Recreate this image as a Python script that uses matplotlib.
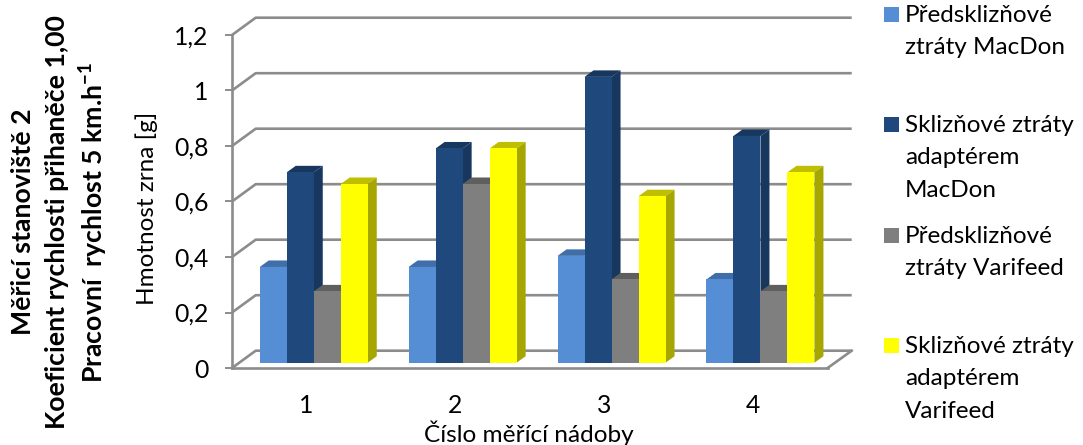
import matplotlib
matplotlib.use("Agg")
import matplotlib.pyplot as plt
from matplotlib.patches import Polygon, Rectangle

plt.rcParams['font.family'] = ['Lato', 'DejaVu Sans']
plt.rcParams['mathtext.fontset'] = 'custom'
plt.rcParams['mathtext.rm'] = 'Lato'
plt.rcParams['mathtext.bf'] = 'Lato:bold'

categories = ['1', '2', '3', '4']
series_names = ['Předsklizňové\nztráty MacDon',
                'Sklizňové ztráty\nadaptérem\nMacDon',
                'Předsklizňové\nztráty Varifeed',
                'Sklizňové ztráty\nadaptérem\nVarifeed']
pre_macdon = [0.345, 0.345, 0.385, 0.30]
harvest_macdon = [0.686, 0.772, 1.03, 0.817]
pre_varifeed = [0.257, 0.644, 0.30, 0.257]
harvest_varifeed = [0.644, 0.772, 0.60, 0.686]
y_ticks = [0, 0.2, 0.4, 0.6, 0.8, 1.0, 1.2]
y_tick_labels = ['0', '0,2', '0,4', '0,6', '0,8', '1', '1,2']
title_lines = ['Měřicí stanoviště 2', 'Koeficient rychlosti přihaněče 1,00',
               'Pracovní  rychlost 5 km.h$\\mathbf{^{-1}}$']

front_colors = ['#558ED5', '#1F497D', '#7F7F7F', '#FFFF00']
top_colors = ['#3F6EA8', '#17375E', '#5F5F5F', '#BFBF00']
side_colors = ['#3F6EA8', '#17375E', '#5F5F5F', '#A6A600']
grid_color = '#8C8C8C'

W, H = 1083, 445
fig = plt.figure(figsize=(W / 100, H / 100), dpi=100)

# pixel layout
left_px, right_px, base_px, top_px = 232.0, 851.7, 368.0, 18.0
ax = fig.add_axes([left_px / W, 1 - base_px / H, (right_px - left_px) / W, (base_px - top_px) / H])
px_per_cat = 148.9
px_per_val = 277.5
ax.set_xlim(0.5, 0.5 + (right_px - left_px) / px_per_cat)
ax.set_ylim(0, (base_px - top_px) / px_per_val)
dxpx = lambda p: p / px_per_cat
dypx = lambda p: p / px_per_val

wall_dx, wall_dy = dxpx(23.7), dypx(17.3)
x0 = 0.5
x_end = 4.5

# walls / gridlines
for t in y_ticks:
    ax.plot([x0, x0 + wall_dx, ax.get_xlim()[1]], [t, t + wall_dy, t + wall_dy],
            color=grid_color, lw=1.9, zorder=1, clip_on=False, solid_capstyle='butt')
# floor right edge
ax.plot([x_end, ax.get_xlim()[1]], [0, wall_dy], color=grid_color, lw=1.9, zorder=1, clip_on=False)

# bars
bar_w = dxpx(27.0)
bar_base = dypx(5.3)
bar_shift = dxpx(7.3)
depth_x, depth_y = dxpx(9.0), dypx(6.5)
all_series = [pre_macdon, harvest_macdon, pre_varifeed, harvest_varifeed]
for s, vals in enumerate(all_series):
    xs = [i + 1 + bar_shift + (s - 1.5) * bar_w for i in range(len(vals))]
    ax.bar(xs, vals, width=bar_w, bottom=bar_base, color=front_colors[s], zorder=4, linewidth=0)
    for x, v in zip(xs, vals):
        l, r = x - bar_w / 2, x + bar_w / 2
        t = v + bar_base
        ax.add_patch(Polygon([(l, t), (l + depth_x, t + depth_y), (r + depth_x, t + depth_y), (r, t)],
                             closed=True, facecolor=top_colors[s], edgecolor='none', zorder=3))
        ax.add_patch(Polygon([(r, bar_base), (r + depth_x, bar_base + depth_y), (r + depth_x, t + depth_y), (r, t)],
                             closed=True, facecolor=side_colors[s], edgecolor='none', zorder=3))

# axes
ax.patch.set_visible(False)
for sp in ['top', 'right']:
    ax.spines[sp].set_visible(False)
ax.spines['left'].set_bounds(0, 1.2)
ax.spines['bottom'].set_bounds(x0, x_end)
for sp in ['left', 'bottom']:
    ax.spines[sp].set_color(grid_color)
    ax.spines[sp].set_linewidth(1.9)
ax.set_yticks(y_ticks, y_tick_labels)
ax.set_xticks(range(1, 5), categories)
ax.tick_params(axis='y', length=5, width=1.4, color=grid_color, labelsize=17.8, pad=12)
ax.tick_params(axis='x', length=0, labelsize=17.8, pad=19)
ax.set_ylabel('Hmotnost zrna [g]', fontsize=17.5)
ax.yaxis.set_label_coords((158 - left_px) / (right_px - left_px), (base_px - 208) / (base_px - top_px))
ax.set_xlabel('Číslo měřící nádoby', fontsize=17.6)
ax.xaxis.set_label_coords((529 - left_px) / (right_px - left_px), (base_px - 420) / (base_px - top_px))

# outer rotated title
for line, xpx in zip(title_lines, [23, 57, 94]):
    fig.text(xpx / W, 1 - 222 / H, line, rotation=90, ha='center', va='center',
             fontsize=19.2, fontweight='bold')

# legend
leg_y = [7, 117, 228, 338]
for name, c, y in zip(series_names, front_colors, leg_y):
    fig.add_artist(Rectangle((884 / W, 1 - (y + 15) / H), 15 / W, 15 / H, transform=fig.transFigure,
                             facecolor=c, edgecolor='none'))
    fig.text(905 / W, 1 - (y - 2) / H, name, ha='left', va='top', fontsize=17.5, linespacing=1.67)

fig.savefig('out.png', dpi=100)
